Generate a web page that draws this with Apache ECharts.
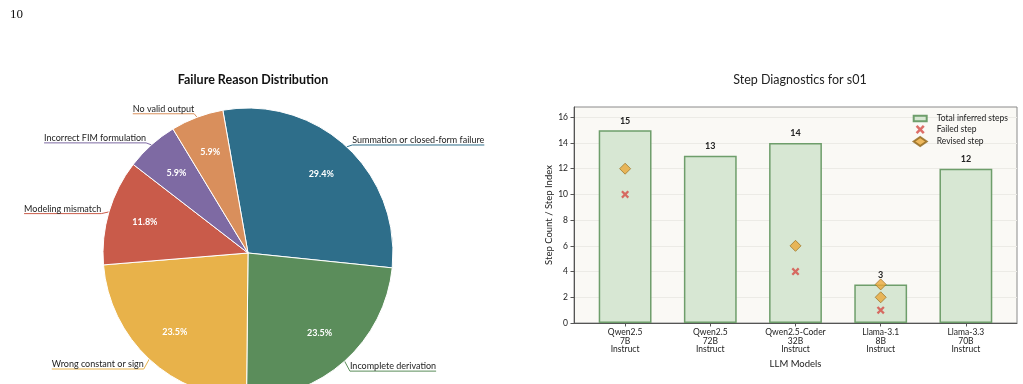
<!DOCTYPE html>
<html>
<head>
<meta charset="utf-8">
<script src="https://cdn.jsdelivr.net/npm/echarts@6/dist/echarts.min.js"></script>
<style>
  html, body { margin: 0; padding: 0; background: #fff; }
  #main { width: 1023px; height: 384px; }
</style>
</head>
<body>
<div id="main"></div>
<script>
// failure reasons (counts out of 17 problems)
let reasons = ['Summation or closed-form failure', 'Incomplete derivation', 'Wrong constant or sign',
  'Modeling mismatch', 'Incorrect FIM formulation', 'No valid output']
let reasonCounts = [5, 4, 4, 2, 1, 1]
let reasonColors = ['#2E6E8A', '#5B8D5B', '#E8B24A', '#C95B4A', '#7E6AA3', '#D98F5C']

// step diagnostics for s01
let models = ['Qwen2.5\n7B\nInstruct', 'Qwen2.5\n72B\nInstruct', 'Qwen2.5-Coder\n32B\nInstruct',
  'Llama-3.1\n8B\nInstruct', 'Llama-3.3\n70B\nInstruct']
let totalSteps = [15, 13, 14, 3, 12]
let failedSteps = [[0, 10], [2, 4], [3, 1]]
let revisedSteps = [[0, 12], [2, 6], [3, 2], [3, 3]]
let yTicks = [0, 2, 4, 6, 8, 10, 12, 14, 16]

let font = 'Lato'
let pieCenter = [248, 253]

let pieData = reasons.map(function (name, i) {
  return {name: name, value: reasonCounts[i], itemStyle: {color: reasonColors[i]}}
})

let xMark = 'path://M2,0 L5,3 L8,0 L10,2 L7,5 L10,8 L8,10 L5,7 L2,10 L0,8 L3,5 L0,2 Z'

let chart = echarts.init(document.getElementById('main'))
let option = {
  animation: false,
  textStyle: {fontFamily: font, color: '#222'},
  title: [
    {text: '10', left: 5, top: 3,
      textStyle: {fontFamily: 'Liberation Serif', fontSize: 13, fontWeight: 'normal', color: '#111'}},
    {text: 'Failure Reason Distribution', left: 248, top: 68, textAlign: 'center',
      textStyle: {fontFamily: font, fontSize: 12.5, fontWeight: 'bold', color: '#111'}},
    {text: 'Step Diagnostics for s01', left: 795, top: 68, textAlign: 'center',
      textStyle: {fontFamily: font, fontSize: 12.5, fontWeight: 'normal', color: '#222'}}
  ],
  legend: {
    orient: 'vertical',
    right: 10,
    top: 109,
    itemWidth: 13,
    itemHeight: 9,
    itemGap: 2,
    textStyle: {fontFamily: font, fontSize: 8.5, color: '#222', padding: [0, 0, 0, 5]},
    data: [
      {name: 'Total inferred steps', icon: 'path://M0,2 L14,2 L14,8 L0,8 Z'},
      {name: 'Failed step'},
      {name: 'Revised step'}
    ]
  },
  grid: {
    left: 574, right: 6, top: 107, bottom: 61,
    show: true, backgroundColor: '#FAF9F5', borderColor: '#8a8a8a', borderWidth: 1
  },
  xAxis: {
    type: 'value',
    min: -0.6,
    max: 4.6,
    name: 'LLM Models',
    nameLocation: 'middle',
    nameGap: 32,
    nameTextStyle: {fontFamily: font, fontSize: 9.5, color: '#222'},
    splitLine: {show: false},
    axisLine: {show: true, onZero: false, lineStyle: {color: '#555'}},
    axisTick: {show: true, length: 3.5, customValues: [0, 1, 2, 3, 4], lineStyle: {color: '#555'}},
    axisLabel: {
      customValues: [0, 1, 2, 3, 4],
      margin: 5,
      fontSize: 8.5,
      lineHeight: 8.7,
      color: '#222',
      formatter: function (v) { return models[Math.round(v)] }
    }
  },
  yAxis: {
    type: 'value',
    min: 0,
    max: 16.8,
    name: 'Step Count / Step Index',
    nameLocation: 'middle',
    nameGap: 18,
    nameTextStyle: {fontFamily: font, fontSize: 9.5, color: '#222'},
    axisLine: {show: true, onZero: false, lineStyle: {color: '#555'}},
    axisTick: {show: true, length: 3.5, customValues: yTicks, lineStyle: {color: '#555'}},
    axisLabel: {customValues: yTicks, margin: 6, fontSize: 8.5, color: '#222'},
    splitLine: {show: true, lineStyle: {color: '#ECEBE6', width: 1}}
  },
  series: [
    {
      type: 'pie',
      center: pieCenter,
      radius: [0, 145],
      startAngle: 100,
      clockwise: true,
      avoidLabelOverlap: true,
      itemStyle: {borderColor: '#fff', borderWidth: 1},
      label: {
        show: true,
        formatter: '{b}',
        fontFamily: font,
        fontSize: 9,
        color: '#222',
        distanceToLabelLine: 0
      },
      labelLine: {show: true, length: 8, length2: 0, smooth: false, lineStyle: {width: 1}},
      labelLayout: function (p) {
        // stretch the leader line under the text, text sits just above it
        let pts = p.labelLinePoints
        if (!pts) return {}
        let r = p.labelRect
        let isLeft = r.x + r.width / 2 < pieCenter[0]
        pts[1][1] += 4
        pts[2][1] += 4
        pts[2][0] = isLeft ? r.x : r.x + r.width
        return {dy: -1, labelLinePoints: pts}
      },
      data: pieData
    },
    {
      // percentage labels only
      type: 'pie',
      center: pieCenter,
      radius: [64, 145],
      startAngle: 100,
      clockwise: true,
      silent: true,
      itemStyle: {color: 'rgba(0,0,0,0)', borderWidth: 0},
      label: {
        show: true,
        position: 'inside',
        formatter: function (p) { return p.percent.toFixed(1) + '%' },
        fontFamily: font,
        fontSize: 9,
        fontWeight: 'bold',
        color: '#fff'
      },
      labelLine: {show: false},
      data: reasons.map(function (name, i) { return {name: name + ' ', value: reasonCounts[i]} })
    },
    {
      name: 'Total inferred steps',
      type: 'bar',
      barWidth: '62%',
      itemStyle: {color: '#D7E7D3', borderColor: '#6E9E6B', borderWidth: 1.5},
      label: {show: true, position: 'top', distance: 5, fontFamily: font, fontSize: 9, fontWeight: 'bold', color: '#222'},
      data: totalSteps.map(function (v, i) { return [i, v] }),
      z: 2
    },
    {
      name: 'Failed step',
      type: 'scatter',
      symbol: xMark,
      symbolSize: 8,
      itemStyle: {color: '#D64B45'},
      data: failedSteps,
      z: 4
    },
    {
      name: 'Revised step',
      type: 'scatter',
      symbol: 'diamond',
      symbolSize: 11,
      itemStyle: {color: '#EBA93A', borderColor: '#8F6418', borderWidth: 0.8},
      data: revisedSteps,
      z: 5
    }
  ]
}
chart.setOption(option)
</script>
</body>
</html>
